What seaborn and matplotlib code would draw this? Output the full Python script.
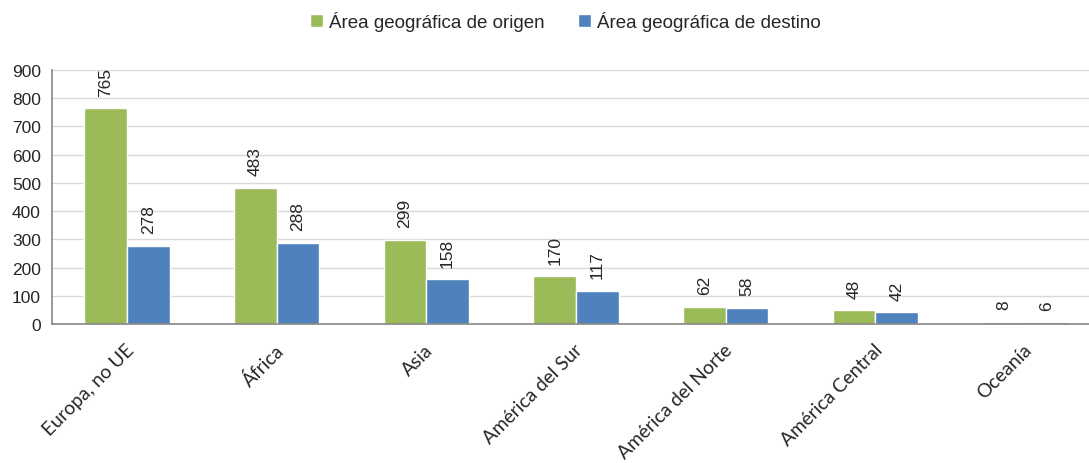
import numpy as np
import pandas as pd
import seaborn as sns
import matplotlib.pyplot as plt
from matplotlib import transforms

regions = ['Europa, no UE', 'África', 'Asia', 'América del Sur',
           'América del Norte', 'América Central', 'Oceanía']
origen = [765, 483, 299, 170, 62, 48, 8]
destino = [278, 288, 158, 117, 58, 42, 6]
series = ['Área geográfica de origen', 'Área geográfica de destino']
colors = ['#9BBB59', '#4F81BD']

df = pd.DataFrame({
    'region': regions * 2,
    'valor': origen + destino,
    'serie': [series[0]] * len(regions) + [series[1]] * len(regions),
})

sns.set_style('white')
plt.rcParams['font.family'] = ['Liberation Sans', 'DejaVu Sans']

fig = plt.figure(figsize=(10.89, 4.64), dpi=100)
ax = fig.add_axes([52 / 1089, 1 - 325 / 464, 1048 / 1089, 254 / 464])

sns.barplot(data=df, x='region', y='valor', hue='serie', palette=colors,
            width=0.57, saturation=1, ax=ax, legend=True)

ax.set_ylim(0, 900)
ax.set_xlim(-0.5, len(regions) - 0.5)
ax.set_yticks(range(0, 901, 100))
ax.yaxis.grid(True, color='#D9D9D9', linewidth=1)
ax.set_axisbelow(True)
ax.set_xlabel('')
ax.set_ylabel('')

for s in ['top', 'right']:
    ax.spines[s].set_visible(False)
for s in ['left', 'bottom']:
    ax.spines[s].set_color('#868686')
    ax.spines[s].set_linewidth(1.2)

ax.tick_params(axis='y', length=5, color='#868686', labelsize=12.5, pad=3)
ax.set_xticks(np.arange(len(regions)) + 0.5, minor=True)
ax.tick_params(axis='x', which='minor', length=5, color='#868686', width=1.2)
ax.tick_params(axis='x', which='major', length=0, pad=12)

# nudge the rotated labels so they end near the group centre
offset = transforms.ScaledTranslation(-2 / 100, 0, fig.dpi_scale_trans)
ax.set_xticks(range(len(regions)))
ax.set_xticklabels(regions, rotation=45, ha='right', rotation_mode='anchor',
                   family=['Lato', 'DejaVu Sans'], fontsize=13.8)
for lbl in ax.get_xticklabels():
    lbl.set_transform(lbl.get_transform() + offset)

for cont in ax.containers:
    ax.bar_label(cont, rotation=90, padding=9, fontsize=12.5)

ax.legend(loc='upper center', bbox_to_anchor=(0.49, 1.3), ncol=2,
          frameon=False, fontsize=13.5, handlelength=0.7, handleheight=0.7,
          handletextpad=0.3, columnspacing=1.8)

fig.savefig('out.png', dpi=100)
